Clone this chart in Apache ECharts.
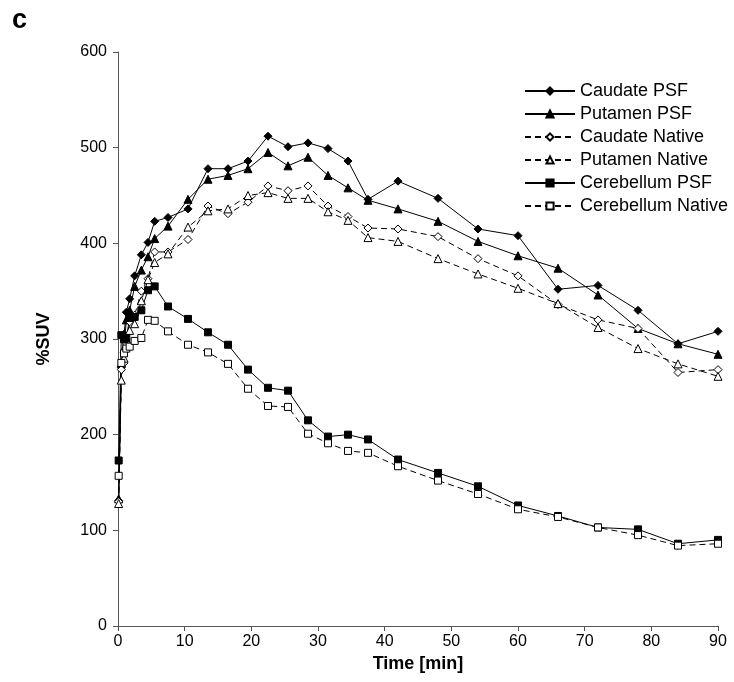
<!DOCTYPE html>
<html><head><meta charset="utf-8">
<script src="https://cdn.jsdelivr.net/npm/echarts@6/dist/echarts.min.js"></script>
<style>html,body{margin:0;padding:0;background:#fff}#c{width:734px;height:682px}</style>
</head><body><div id="c"></div>
<script>
var times = [0.1, 0.5, 0.9, 1.25, 1.75, 2.5, 3.5, 4.5, 5.5, 7.5, 10.5, 13.5, 16.5, 19.5, 22.5, 25.5, 28.5, 31.5, 34.5, 37.5, 42, 48, 54, 60, 66, 72, 78, 84, 90];
var caudatePSF    = [131, 270, 305, 328, 342, 366, 388, 401, 423, 427, 436, 478, 478, 486, 512, 501, 505, 499, 486, 446, 465, 447, 415, 408, 352, 356, 330, 295, 308];
var putamenPSF    = [133, 275, 290, 320, 330, 355, 372, 386, 405, 418, 446, 467, 471, 478, 495, 481, 490, 471, 458, 445, 436, 423, 402, 387, 374, 346, 311, 295, 284];
var caudateNative = [130, 268, 275, 295, 318, 325, 350, 363, 391, 391, 404, 439, 431, 443, 460, 455, 460, 439, 428, 416, 415, 407, 384, 366, 336, 320, 311, 265, 268];
var putamenNative = [128, 257, 280, 300, 309, 316, 340, 362, 380, 389, 417, 434, 436, 450, 453, 447, 447, 433, 424, 406, 402, 384, 368, 353, 337, 312, 290, 274, 261];
var cerebPSF      = [173, 304, 300, 301, 322, 323, 330, 351, 355, 334, 321, 307, 294, 268, 249, 246, 215, 198, 200, 195, 174, 160, 146, 126, 115, 103, 101, 86, 90];
var cerebNative   = [157, 275, 285, 290, 292, 298, 301, 320, 319, 308, 294, 286, 274, 248, 230, 229, 201, 191, 183, 181, 167, 152, 138, 122, 114, 103, 95, 84, 86];
var xTicks = [0, 10, 20, 30, 40, 50, 60, 70, 80, 90];
var yTicks = [0, 100, 200, 300, 400, 500, 600];

function pairs(v){ return times.map(function(t,i){ return [t, v[i]]; }); }
function mk(name, vals, symbol, filled, dashed){
  return {
    name: name, type: 'line', data: pairs(vals), symbol: symbol,
    symbolSize: symbol === 'rect' ? 7 : 8,
    lineStyle: {color: '#000', width: 1, type: dashed ? [6, 4] : 'solid'},
    itemStyle: {color: filled ? '#000' : '#fff', borderColor: '#000', borderWidth: 1},
    emphasis: {disabled: true}, animation: false
  };
}
var chart = echarts.init(document.getElementById('c'), null, {renderer: 'canvas'});
var font = 'Liberation Sans, Arial, sans-serif';
chart.setOption({
  backgroundColor: '#fff',
  animation: false,
  graphic: [{
    type: 'text', left: 12, top: 7,
    style: {text: 'c', font: 'bold 27px "Liberation Sans", Arial, sans-serif', fill: '#000'}
  }],
  grid: {left: 118, right: 16, top: 52, bottom: 56, containLabel: false},
  legend: {
    orient: 'vertical', left: 519, top: 77, itemWidth: 50, itemHeight: 9, itemGap: 5,
    textStyle: {fontFamily: font, fontSize: 18, color: '#000'},
    data: ['Caudate PSF', 'Putamen PSF', 'Caudate Native', 'Putamen Native', 'Cerebellum PSF', 'Cerebellum Native']
  },
  xAxis: {
    type: 'value', min: xTicks[0], max: xTicks[xTicks.length-1], interval: 10,
    name: 'Time [min]', nameLocation: 'middle', nameGap: 26,
    nameTextStyle: {fontFamily: font, fontSize: 18, fontWeight: 'bold', color: '#000'},
    axisLine: {lineStyle: {color: '#555'}}, axisTick: {show: true, length: 5, lineStyle: {color: '#555'}},
    axisLabel: {fontFamily: font, fontSize: 16, color: '#000', margin: 8},
    splitLine: {show: false}
  },
  yAxis: {
    type: 'value', min: yTicks[0], max: yTicks[yTicks.length-1], interval: 100,
    name: '%SUV', nameLocation: 'middle', nameGap: 65, nameRotate: 90,
    nameTextStyle: {fontFamily: font, fontSize: 18, fontWeight: 'bold', color: '#000'},
    axisLine: {show: true, lineStyle: {color: '#555'}}, axisTick: {show: true, length: 5, lineStyle: {color: '#555'}},
    axisLabel: {fontFamily: font, fontSize: 16, color: '#000', margin: 11},
    splitLine: {show: false}
  },
  series: [
    mk('Caudate PSF', caudatePSF, 'diamond', true, false),
    mk('Putamen PSF', putamenPSF, 'triangle', true, false),
    mk('Caudate Native', caudateNative, 'diamond', false, true),
    mk('Putamen Native', putamenNative, 'triangle', false, true),
    mk('Cerebellum PSF', cerebPSF, 'rect', true, false),
    mk('Cerebellum Native', cerebNative, 'rect', false, true)
  ]
});
</script></body></html>
